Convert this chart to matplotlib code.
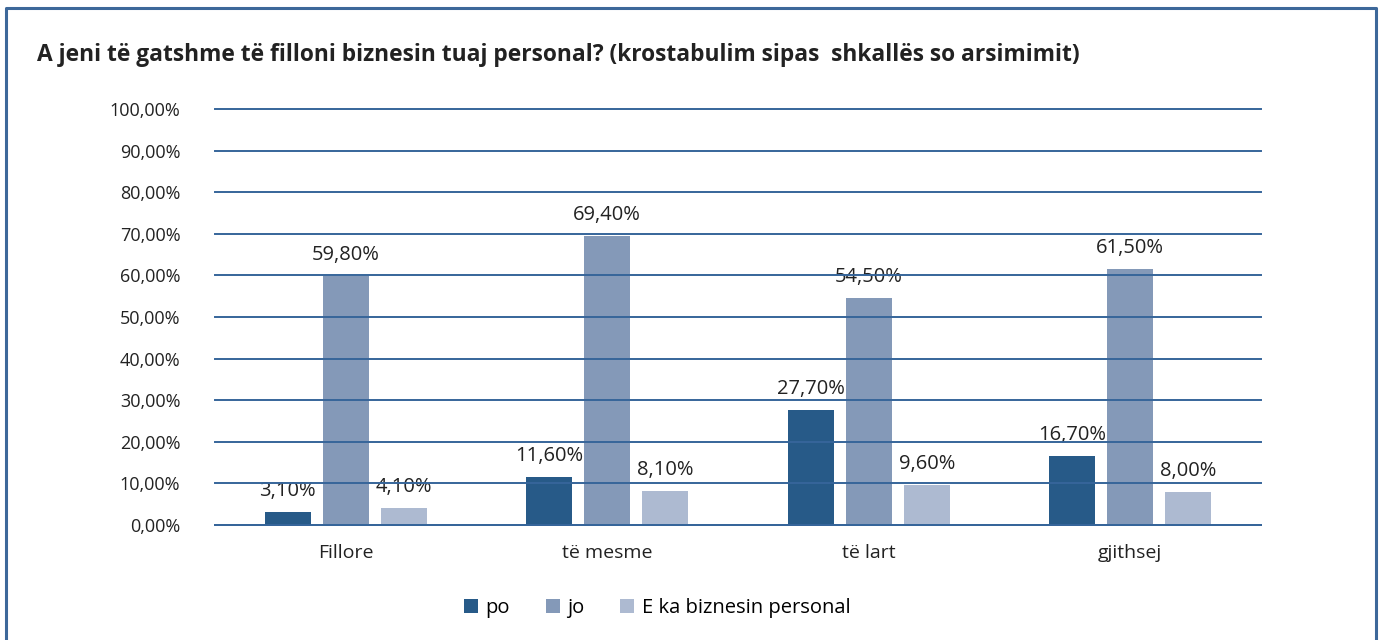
import matplotlib.pyplot as plt
import numpy as np

plt.rcParams['font.family'] = ['Open Sans', 'DejaVu Sans']

categories = ['Fillore', 'të mesme', 'të lart', 'gjithsej']
series_names = ['po', 'jo', 'E ka biznesin personal']
po = [3.1, 11.6, 27.7, 16.7]
jo = [59.8, 69.4, 54.5, 61.5]
biznes = [4.1, 8.1, 9.6, 8.0]
colors = ['#275a88', '#8499b8', '#adbad1']

fig = plt.figure(figsize=(13.81, 6.4), dpi=100)
ax = fig.add_axes([215 / 1381, 1 - 525 / 640, 1046 / 1381, 416 / 640])

# outer frame (open at the bottom)
fig.add_artist(plt.Line2D([6 / 1381, 6 / 1381, 1376 / 1381, 1376 / 1381],
                          [0, 1 - 8 / 640, 1 - 8 / 640, 0],
                          transform=fig.transFigure, color='#3d689a', lw=2.2))

x = np.arange(len(categories))
w = 0.176
step = 0.222
for i, (vals, name) in enumerate(zip([po, jo, biznes], series_names)):
    bars = ax.bar(x + (i - 1) * step, vals, w, color=colors[i], label=name, zorder=2)
    for b, v in zip(bars, vals):
        ax.text(b.get_x() + b.get_width() / 2, v + 2.6, f'{v:.2f}%'.replace('.', ','),
                ha='center', va='bottom', fontsize=14.5, color='#222222', zorder=1)

ax.set_xlim(-0.5, len(categories) - 0.5)
ax.set_ylim(0, 100)
ax.set_yticks(np.arange(0, 101, 10))
ax.set_yticklabels([f'{t:.2f}%'.replace('.', ',') for t in np.arange(0, 101, 10)])
ax.set_xticks(x)
ax.set_xticklabels(categories)
ax.tick_params(axis='both', length=0, colors='#222222')
ax.tick_params(axis='y', pad=25, labelsize=13)
ax.tick_params(axis='x', pad=14, labelsize=14)
ax.yaxis.grid(True, color='#36659a', lw=1.4, zorder=3)
for gl in ax.get_ygridlines():
    gl.set_clip_on(False)
ax.set_axisbelow(False)
for s in ['top', 'right', 'left']:
    ax.spines[s].set_visible(False)
ax.spines['bottom'].set_color('#36659a')
ax.spines['bottom'].set_linewidth(1.4)

fig.text(37 / 1381, 1 - 55 / 640,
         'A jeni të gatshme të filloni biznesin tuaj personal? (krostabulim sipas  shkallës so arsimimit)',
         fontsize=16.4, fontweight='bold', color='#222222', va='center', ha='left')

handles, labels = ax.get_legend_handles_labels()
fig.legend(handles, labels, loc='center', bbox_to_anchor=(657 / 1381, 1 - 608 / 640),
           ncol=3, frameon=False, fontsize=14.5, handlelength=0.7, handleheight=0.7,
           handletextpad=0.35, columnspacing=1.8)

fig.savefig('out.png', dpi=100)
